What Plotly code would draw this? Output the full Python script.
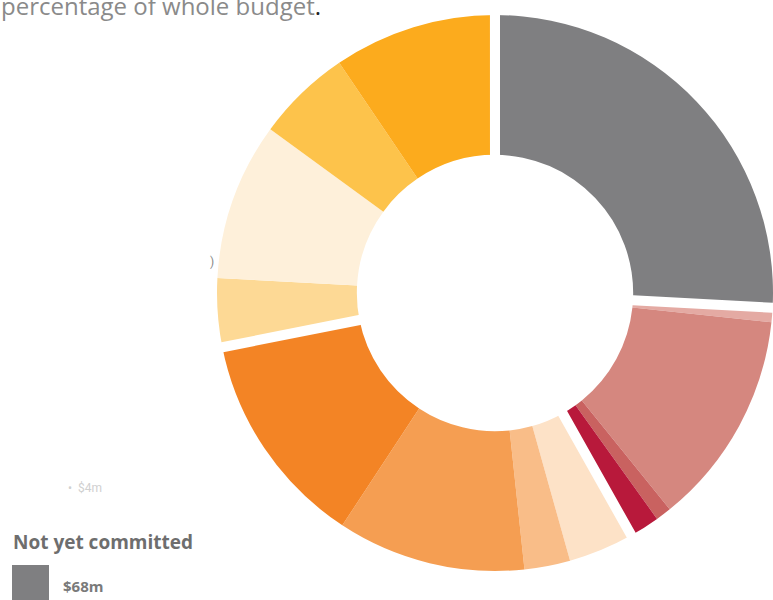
import plotly.graph_objects as go

# Budget split ($m), read clockwise from 12 o'clock
not_committed = [68.0]
red_values = [2.2, 32.9, 2.4, 4.6]
orange_values = [10.0, 7.0, 28.8, 33.2]
yellow_values = [10.5, 24.1, 14.5, 24.9]

red_labels = ["Red 1", "Red 2", "Red 3", "Red 4"]
orange_labels = ["Orange 1", "Orange 2", "Orange 3", "Orange 4"]
yellow_labels = ["Yellow 1", "Yellow 2", "Yellow 3", "Yellow 4"]

grey_colors = ["#7f7f81"]
red_colors = ["#e4aaa3", "#d5877f", "#c96260", "#b8193b"]
orange_colors = ["#fde2c7", "#f9bd88", "#f59e52", "#f38425"]
yellow_colors = ["#fdd995", "#fef0da", "#fdc34b", "#fcab1d"]

GAP = 0.01  # tiny separator slice between groups

values, labels, colors, is_gap = [], [], [], []


def add_group(vals, labs, cols, gap_name):
    values.extend(vals)
    labels.extend(labs)
    colors.extend(cols)
    is_gap.extend([False] * len(vals))
    values.append(GAP)
    labels.append(gap_name)
    colors.append("#ffffff")
    is_gap.append(True)


add_group(not_committed, ["Not yet committed"], grey_colors, "sep 1")
add_group(red_values, red_labels, red_colors, "sep 2")
add_group(orange_values, orange_labels, orange_colors, "sep 3")
add_group(yellow_values, yellow_labels, yellow_colors, "sep 4")

W, H = 773, 600
cx, cy, r = 495.0, 293.0, 278.0
domain = dict(x=[(cx - r) / W, (cx + r) / W], y=[1 - (cy + r) / H, 1 - (cy - r) / H])
hole = 0.497

fig = go.Figure()

# coloured ring
fig.add_trace(go.Pie(
    values=values, labels=labels, sort=False, direction="clockwise", rotation=0,
    hole=hole, domain=domain, textinfo="none", hoverinfo="label+value",
    marker=dict(colors=colors, line=dict(width=0, color="#ffffff")),
    showlegend=False,
))

# white separators between groups drawn on top as wide strokes
fig.add_trace(go.Pie(
    values=values, labels=labels, sort=False, direction="clockwise", rotation=0,
    hole=hole, domain=domain, textinfo="none", hoverinfo="skip",
    marker=dict(
        colors=["#ffffff" if g else "rgba(0,0,0,0)" for g in is_gap],
        line=dict(color="#ffffff", width=[10 if g else 0 for g in is_gap]),
    ),
    showlegend=False,
))


def px(x):
    return x / W


def py(y):
    return 1 - y / H


annotations = [
    dict(text="percentage of whole budget<span style='color:#222'>.</span>", x=px(-1), y=py(24),
         xanchor="left", yanchor="bottom",
         font=dict(family="Open Sans", size=24, color="#8a8a8a")),
    dict(text=")", x=px(208), y=py(262), xanchor="left", yanchor="middle",
         font=dict(family="Roboto", size=12, color="#888888")),
    dict(text="•  $4m", x=px(66), y=py(488), xanchor="left", yanchor="middle",
         font=dict(family="Roboto", size=12, color="#d0d0d0")),
    dict(text="<b>Not yet committed</b>", x=px(11), y=py(542), xanchor="left", yanchor="middle",
         font=dict(family="Open Sans", size=19, color="#6e6e6e")),
    dict(text=f"<b>${not_committed[0]:.0f}m</b>", x=px(61), y=py(586), xanchor="left", yanchor="middle",
         font=dict(family="Open Sans", size=15, color="#7a7a7a")),
]
for a in annotations:
    a.update(xref="paper", yref="paper", showarrow=False)

# legend key swatch for the grey slice
shapes = [dict(type="rect", xref="paper", yref="paper", x0=px(12), x1=px(49), y0=py(606), y1=py(565),
               fillcolor=grey_colors[0], line=dict(width=0), layer="above")]

fig.update_layout(
    width=W, height=H, margin=dict(l=0, r=0, t=0, b=0),
    paper_bgcolor="#ffffff", plot_bgcolor="#ffffff",
    annotations=annotations, shapes=shapes, showlegend=False,
)

fig.write_html("out.html")
